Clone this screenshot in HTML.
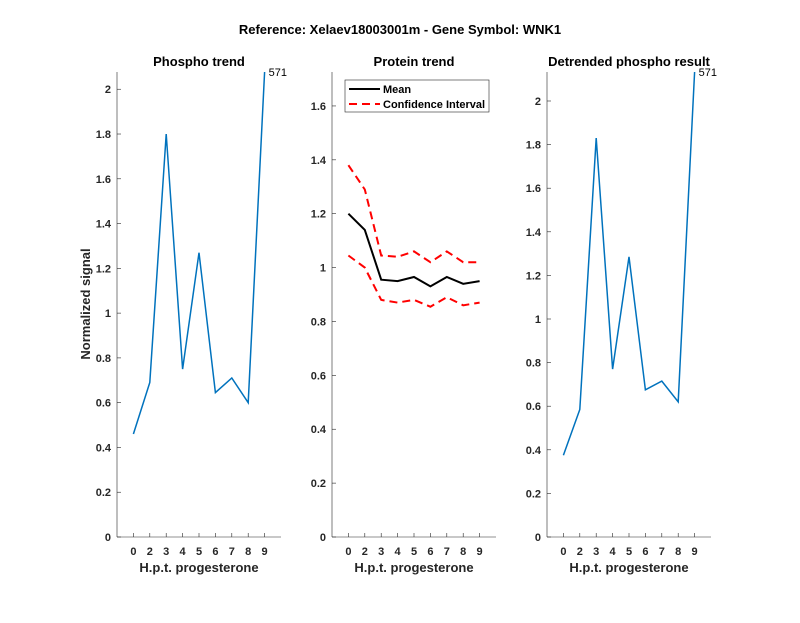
<!DOCTYPE html>
<html><head><meta charset="utf-8"><style>
body{margin:0;background:#fff}
svg text{font-family:"Liberation Sans",sans-serif}
</style></head><body>
<svg id="s" width="800" height="618" xmlns="http://www.w3.org/2000/svg"></svg>
<script>
const s=document.getElementById('s');let h='';
h+='<rect width="800" height="618" fill="#fff"/>';
h+='<text x="400" y="34" font-size="13" font-weight="bold" text-anchor="middle">Reference:  Xelaev18003001m - Gene Symbol:  WNK1</text>';
const labs=['0','2','3','4','5','6','7','8','9'];
function panel(x0,x1,ymax,title,step){
  const y0=537,yt=72;
  const X=i=>x0+(x1-x0)*i/10, Y=v=>y0-(y0-yt)*v/ymax;
  h+=`<line x1="${x0}" y1="${y0}" x2="${x1}" y2="${y0}" stroke="#262626" stroke-width="0.6"/>`;
  h+=`<line x1="${x0}" y1="${y0}" x2="${x0}" y2="${yt}" stroke="#262626" stroke-width="0.6"/>`;
  for(let i=0;i<9;i++){const x=X(i+1);h+=`<line x1="${x}" y1="${y0}" x2="${x}" y2="${y0-4}" stroke="#262626" stroke-width="0.6"/><text x="${x}" y="${y0+18}" font-size="11" font-weight="bold" text-anchor="middle" fill="#262626">${labs[i]}</text>`;}
  for(let v=0;v<=ymax+1e-9;v+=step){const y=Y(v);const t=(Math.round(v*10)/10).toString();h+=`<line x1="${x0}" y1="${y}" x2="${x0+4}" y2="${y}" stroke="#262626" stroke-width="0.6"/><text x="${x0-6}" y="${y+4}" font-size="11" font-weight="bold" text-anchor="end" fill="#262626">${t}</text>`;}
  h+=`<text x="${(x0+x1)/2}" y="${y0+35}" font-size="13" font-weight="bold" text-anchor="middle" fill="#262626">H.p.t. progesterone</text>`;
  h+=`<text x="${(x0+x1)/2}" y="66" font-size="13" font-weight="bold" text-anchor="middle">${title}</text>`;
  return {X,Y};
}
function line(p,d,col,w,dash){const pts=d.map((v,i)=>p.X(i+1).toFixed(1)+','+p.Y(v).toFixed(1)).join(' ');h+=`<polyline points="${pts}" fill="none" stroke="${col}" stroke-width="${w}" ${dash?'stroke-dasharray="8,5"':''}/>`;}
let a=panel(117,281,2.077,'Phospho trend',0.2);
line(a,[0.46,0.69,1.80,0.75,1.27,0.645,0.71,0.60,2.077],'#0072BD',1.5);
h+=`<text x="${a.X(9)+4}" y="${a.Y(2.077)+4}" font-size="11">571</text>`;
h+='<text transform="translate(90,304) rotate(-90)" font-size="13" font-weight="bold" text-anchor="middle" fill="#262626">Normalized signal</text>';
let b=panel(332,496,1.726,'Protein trend',0.2);
line(b,[1.38,1.29,1.045,1.04,1.06,1.02,1.06,1.02,1.02],'#ff0000',2,1);
line(b,[1.045,1.0,0.88,0.87,0.88,0.855,0.89,0.86,0.87],'#ff0000',2,1);
line(b,[1.20,1.14,0.955,0.95,0.965,0.93,0.965,0.94,0.95],'#000',2);
h+='<rect x="345" y="80" width="144" height="32" fill="#fff" stroke="#262626" stroke-width="0.6"/>';
h+='<line x1="349" y1="89" x2="380" y2="89" stroke="#000" stroke-width="2"/><text x="383" y="93" font-size="11" font-weight="bold">Mean</text>';
h+='<line x1="349" y1="104" x2="380" y2="104" stroke="#f00" stroke-width="2" stroke-dasharray="8,5"/><text x="383" y="108" font-size="11" font-weight="bold">Confidence Interval</text>';
let c=panel(547,711,2.133,'Detrended phospho result',0.2);
line(c,[0.375,0.585,1.83,0.77,1.285,0.675,0.715,0.62,2.133],'#0072BD',1.5);
h+=`<text x="${c.X(9)+4}" y="${c.Y(2.133)+4}" font-size="11">571</text>`;
s.innerHTML=h;
</script>
</body></html>
